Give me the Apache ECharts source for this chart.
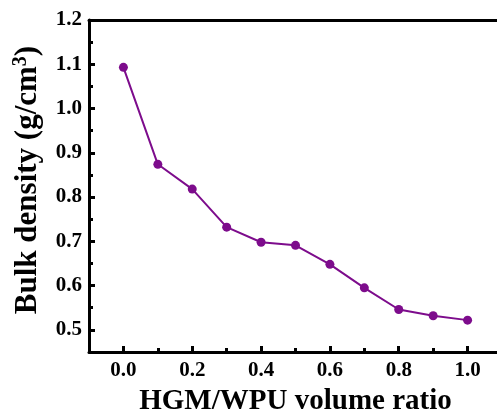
<!DOCTYPE html>
<html>
<head>
<meta charset="utf-8">
<script src="https://cdn.jsdelivr.net/npm/echarts@6/dist/echarts.min.js"></script>
<style>html,body{margin:0;padding:0;background:#fff}#c{width:497px;height:417px}</style>
</head>
<body>
<div id="c"></div>
<script>
const ratios = [0.0, 0.1, 0.2, 0.3, 0.4, 0.5, 0.6, 0.7, 0.8, 0.9, 1.0];
const density = [1.093, 0.874, 0.818, 0.732, 0.698, 0.691, 0.648, 0.595, 0.546, 0.532, 0.522];
const xMajor = [0.0, 0.2, 0.4, 0.6, 0.8, 1.0];
const xMinor = [0.1, 0.3, 0.5, 0.7, 0.9];
const yMajor = [0.5, 0.6, 0.7, 0.8, 0.9, 1.0, 1.1, 1.2];
const yMinor = [0.45, 0.55, 0.65, 0.75, 0.85, 0.95, 1.05, 1.15];

const font = '"Liberation Serif", "Times New Roman", serif';
const chart = echarts.init(document.getElementById('c'), null, {renderer: 'canvas'});
const lbl = {fontFamily: font, fontWeight: 'bold', fontSize: 21, color: '#000'};
chart.setOption({
  animation: false,
  grid: {left: 89, top: 20, right: -5, bottom: 65, outerBoundsMode: 'none', containLabel: false, show: false},
  xAxis: [{
    type: 'value', min: -0.1, max: 1.1, position: 'bottom',
    axisLine: {show: true, onZero: false, lineStyle: {color: '#000', width: 3}},
    axisTick: {show: true, inside: true, length: 6, lineStyle: {color: '#000', width: 3}, customValues: xMajor},
    axisLabel: Object.assign({margin: 8, customValues: xMajor, formatter: v => v.toFixed(1)}, lbl),
    splitLine: {show: false},
    name: 'HGM/WPU volume ratio', nameLocation: 'middle', nameGap: 35,
    nameTextStyle: {fontFamily: font, fontWeight: 'bold', fontSize: 29, color: '#000'}
  }, {
    type: 'value', min: -0.1, max: 1.1, position: 'bottom',
    axisLine: {show: false, onZero: false},
    axisTick: {show: true, inside: true, length: 4, lineStyle: {color: '#000', width: 3}, customValues: xMinor},
    axisLabel: {show: false}, splitLine: {show: false}
  }, {
    type: 'value', min: -0.1, max: 1.1, position: 'top',
    axisLine: {show: true, onZero: false, lineStyle: {color: '#000', width: 3}},
    axisTick: {show: false}, axisLabel: {show: false}, splitLine: {show: false}
  }],
  yAxis: [{
    type: 'value', min: 0.45, max: 1.2, position: 'left',
    axisLine: {show: true, onZero: false, lineStyle: {color: '#000', width: 3}},
    axisTick: {show: true, inside: true, length: 6, lineStyle: {color: '#000', width: 3}, customValues: yMajor},
    axisLabel: Object.assign({margin: 7, customValues: yMajor, formatter: v => v.toFixed(1)}, lbl),
    splitLine: {show: false},
    name: 'Bulk density (g/cm{sup|3})', nameLocation: 'middle', nameGap: 42, nameRotate: 90,
    nameTextStyle: {fontFamily: font, fontWeight: 'bold', fontSize: 31, color: '#000', lineHeight: 34, padding: [0, 0, 0, 12],
      rich: {sup: {fontFamily: font, fontWeight: 'bold', fontSize: 20, color: '#000', verticalAlign: 'top', lineHeight: 12}}}
  }, {
    type: 'value', min: 0.45, max: 1.2, position: 'left',
    axisLine: {show: false, onZero: false},
    axisTick: {show: true, inside: true, length: 4, lineStyle: {color: '#000', width: 3}, customValues: yMinor},
    axisLabel: {show: false}, splitLine: {show: false}
  }],
  series: [{
    type: 'line', xAxisIndex: 0, yAxisIndex: 0,
    data: ratios.map((r, i) => [r, density[i]]),
    symbol: 'circle', symbolSize: 9,
    lineStyle: {color: '#7d0c8c', width: 2},
    itemStyle: {color: '#7d0c8c'}
  }]
});
</script>
</body>
</html>
